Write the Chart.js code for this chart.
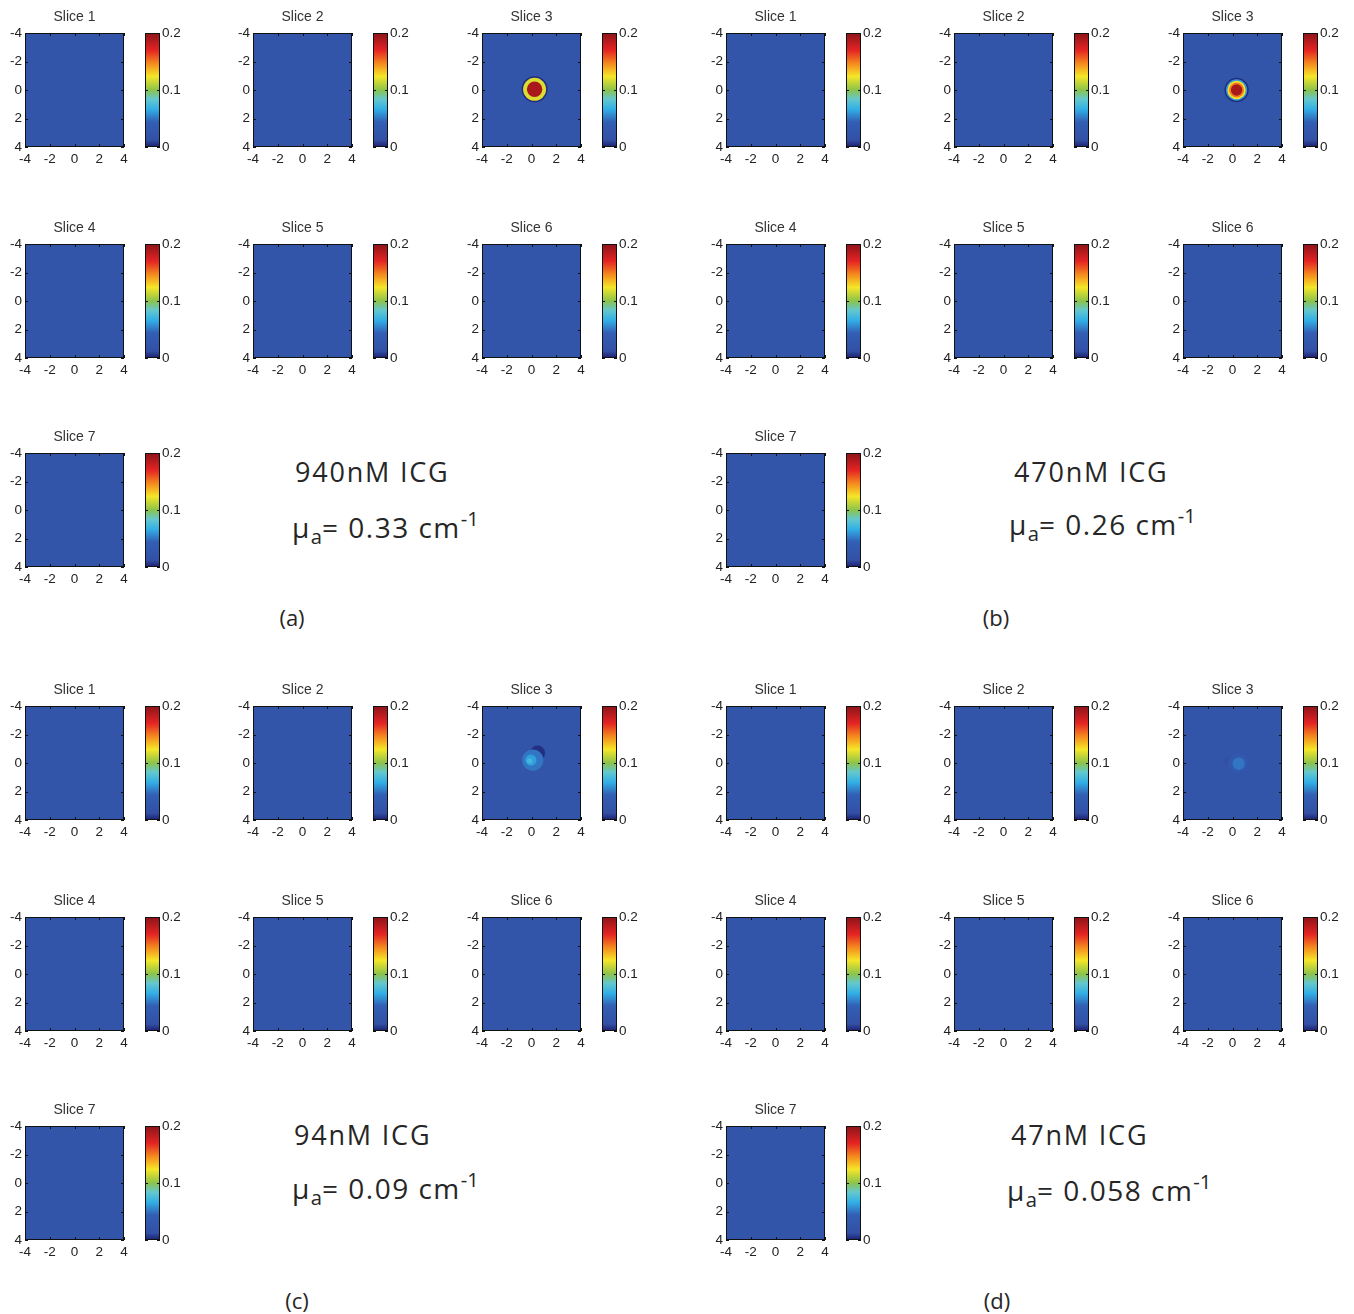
<!DOCTYPE html>
<html>
<head>
<meta charset="utf-8">
<script src="https://cdn.jsdelivr.net/npm/chart.js@4.4.1/dist/chart.umd.min.js"></script>
<style>
body { margin: 0; background: #fff; width: 1354px; height: 1314px; position: relative; overflow: hidden; }
canvas { position: absolute; }
.note { position: absolute; font-family: 'Open Sans', sans-serif; color: #262626; white-space: nowrap; }
.note sub, .note sup { font-size: 0.72em; line-height: 0; letter-spacing: 0; }
.note sub { vertical-align: -0.28em; }
.note sup { vertical-align: 0.62em; }
</style>
</head>
<body>
<script>
// values
const panelTags = ['(a)', '(b)', '(c)', '(d)'];
const concentrations = ['940nM ICG', '470nM ICG', '94nM ICG', '47nM ICG'];
const absorption = ['0.33', '0.26', '0.09', '0.058'];
const sliceTitles = ['Slice 1', 'Slice 2', 'Slice 3', 'Slice 4', 'Slice 5', 'Slice 6', 'Slice 7'];
const axisTicks = [-4, -2, 0, 2, 4];
const colorbarTicks = [0, 0.1, 0.2];
const backgroundValue = 0.02;
const inclusionSlice = 3;

// reconstructed target in slice 3, back to front: centre x, y (cm), radius (cm), value
const inclusionA = [
    { x: 0.25, y: -0.05, rad: 1.05, v: 0.003 },
    { x: 0.25, y: -0.05, rad: 0.93, v: 0.118 },
    { x: 0.25, y: -0.05, rad: 0.62, v: 0.19 }
];
const inclusionB = [
    { x: 0.33, y: 0.0, rad: 0.98, v: 0.003 },
    { x: 0.33, y: 0.0, rad: 0.86, v: 0.06 },
    { x: 0.33, y: 0.0, rad: 0.74, v: 0.125 },
    { x: 0.33, y: 0.0, rad: 0.6, v: 0.15 },
    { x: 0.33, y: 0.0, rad: 0.46, v: 0.19 }
];
const inclusionC = [
    { x: 0.5, y: -0.7, rad: 0.6, v: 0.004 },
    { x: 0.1, y: -0.2, rad: 0.86, v: 0.05 },
    { x: -0.05, y: -0.2, rad: 0.45, v: 0.062 },
    { x: -0.15, y: -0.15, rad: 0.22, v: 0.072 }
];
const inclusionD = [
    { x: -0.4, y: -0.1, rad: 0.35, v: 0.014 },
    { x: 0.45, y: 0.0, rad: 0.8, v: 0.032 },
    { x: 0.5, y: 0.05, rad: 0.5, v: 0.05 }
];
const inclusions = [inclusionA, inclusionB, inclusionC, inclusionD];

// jet-like colour map as printed
const jetStops = [0, 0.06, 0.22, 0.33, 0.42, 0.5, 0.62, 0.73, 0.85, 1];
const jetColors = [[28, 30, 110], [50, 80, 165], [50, 95, 180], [50, 175, 230], [100, 200, 205],
    [140, 195, 75], [245, 230, 40], [245, 140, 30], [228, 35, 35], [140, 20, 25]];

function jet(v) {
    const t = Math.min(1, Math.max(0, v / colorbarTicks[2]));
    let i = 0;
    while (i < jetStops.length - 2 && t > jetStops[i + 1]) i++;
    const f = (t - jetStops[i]) / (jetStops[i + 1] - jetStops[i]);
    const c = jetColors[i].map((a, k) => Math.round(a + (jetColors[i + 1][k] - a) * f));
    return `rgb(${c[0]},${c[1]},${c[2]})`;
}

// layout
const panelX = [0, 701, 0, 701];
const panelY = [0, 0, 673, 673];
const colX = [25, 253, 482];
const rowY = [33, 244, 453];
const plotW = 99, plotH = 114;
const cbGap = 120, cbW = 15;
const tickFont = { family: "'Liberation Sans', Arial, sans-serif", size: 13.5 };

const frame = {
    id: 'frame',
    beforeDatasetsDraw(chart, args, opts) {
        if (!opts.fill) return;
        const a = chart.chartArea, ctx = chart.ctx;
        ctx.save();
        ctx.fillStyle = jet(backgroundValue);
        ctx.fillRect(a.left, a.top, a.width, a.height);
        ctx.restore();
    },
    afterDatasetsDraw(chart, args, opts) {
        const a = chart.chartArea, ctx = chart.ctx;
        ctx.save();
        ctx.strokeStyle = '#111';
        ctx.lineWidth = 1;
        ctx.beginPath();
        if (opts.xTicks) {
            opts.xTicks.forEach(v => {
                const px = Math.round(chart.scales.x.getPixelForValue(v)) + 0.5;
                ctx.moveTo(px, a.top); ctx.lineTo(px, a.top + 3);
                ctx.moveTo(px, a.bottom); ctx.lineTo(px, a.bottom - 3);
            });
        }
        opts.yTicks.forEach(v => {
            const py = Math.round(chart.scales.y.getPixelForValue(v)) + 0.5;
            ctx.moveTo(a.left, py); ctx.lineTo(a.left + 3, py);
            ctx.moveTo(a.right, py); ctx.lineTo(a.right - 3, py);
        });
        ctx.stroke();
        ctx.strokeRect(Math.round(a.left) + 0.5, Math.round(a.top) + 0.5, Math.round(a.width) - 1, Math.round(a.height) - 1);
        ctx.restore();
    }
};

function heatmap(left, top, title, blobs) {
    const cv = document.createElement('canvas');
    cv.width = plotW + 48;
    cv.height = 30 + plotH + 22;
    cv.style.left = (left - 24) + 'px';
    cv.style.top = (top - 30) + 'px';
    document.body.appendChild(cv);
    new Chart(cv, {
        type: 'scatter',
        data: {
            datasets: [{
                data: blobs,
                pointBackgroundColor: c => jet(c.raw ? c.raw.v : 0),
                pointBorderWidth: 0,
                pointRadius: c => {
                    const s = c.chart.scales.x, d = c.raw;
                    if (!d || !c.chart.chartArea) return 0;
                    return Math.abs(s.getPixelForValue(d.x + d.rad) - s.getPixelForValue(d.x));
                },
                clip: 0
            }]
        },
        options: {
            responsive: false,
            animation: false,
            events: [],
            layout: { padding: 0, autoPadding: false },
            plugins: {
                legend: { display: false },
                tooltip: { enabled: false },
                title: {
                    display: true, text: title, color: '#333',
                    font: { family: "'Liberation Sans', Arial, sans-serif", size: 14, weight: 'normal', lineHeight: '16px' },
                    padding: { top: 6, bottom: 8 }
                },
                frame: { fill: true, xTicks: axisTicks, yTicks: axisTicks }
            },
            scales: {
                x: {
                    type: 'linear', min: axisTicks[0], max: axisTicks[4],
                    afterBuildTicks: s => { s.ticks = axisTicks.map(v => ({ value: v })); },
                    grid: { display: false, drawTicks: false }, border: { display: false },
                    ticks: { padding: 4, color: '#222', font: tickFont, maxRotation: 0, autoSkip: false },
                    afterFit: s => { s.height = 22; }
                },
                y: {
                    type: 'linear', reverse: true, min: axisTicks[0], max: axisTicks[4],
                    afterBuildTicks: s => { s.ticks = axisTicks.map(v => ({ value: v })); },
                    grid: { display: false, drawTicks: false }, border: { display: false },
                    ticks: { padding: 3, color: '#222', font: tickFont, autoSkip: false },
                    afterFit: s => { s.width = 24; }
                },
                y2: {
                    position: 'right', display: true,
                    grid: { display: false, drawTicks: false }, border: { display: false },
                    ticks: { display: false },
                    afterFit: s => { s.width = 24; }
                }
            }
        },
        plugins: [frame]
    });
}

function colorbar(left, top) {
    const cv = document.createElement('canvas');
    cv.width = 1 + cbW + 30;
    cv.height = plotH + 20;
    cv.style.left = (left - 1) + 'px';
    cv.style.top = (top - 10) + 'px';
    document.body.appendChild(cv);
    new Chart(cv, {
        type: 'bar',
        data: {
            labels: [''],
            datasets: [{
                data: [[colorbarTicks[0], colorbarTicks[2]]],
                borderWidth: 0,
                barPercentage: 1,
                categoryPercentage: 1,
                backgroundColor: c => {
                    const ch = c.chart;
                    if (!ch.chartArea) return jet(0.1);
                    const s = ch.scales.y;
                    const g = ch.ctx.createLinearGradient(0, s.getPixelForValue(colorbarTicks[0]), 0, s.getPixelForValue(colorbarTicks[2]));
                    jetStops.forEach((t, i) => g.addColorStop(t, `rgb(${jetColors[i].join(',')})`));
                    return g;
                }
            }]
        },
        options: {
            responsive: false,
            animation: false,
            events: [],
            layout: { padding: { left: 1, right: 0, top: 10, bottom: 10 } },
            plugins: {
                legend: { display: false },
                tooltip: { enabled: false },
                frame: { fill: false, yTicks: colorbarTicks }
            },
            scales: {
                x: { display: false },
                y: {
                    position: 'right', min: colorbarTicks[0], max: colorbarTicks[2],
                    afterBuildTicks: s => { s.ticks = colorbarTicks.map(v => ({ value: v })); },
                    grid: { display: false, drawTicks: false }, border: { display: false },
                    ticks: { padding: 2, color: '#222', font: tickFont, callback: v => String(+(+v).toFixed(2)) },
                    afterFit: s => { s.width = 30; }
                }
            }
        },
        plugins: [frame]
    });
}

// annotation positions: [left, centre y] per panel
const line1Pos = [[295, 472], [1014, 472], [294, 1135], [1011, 1135]];
const line2Pos = [[292, 527], [1009, 524], [292, 1188], [1007, 1190]];
const tagPos = [[292, 617], [996, 617], [297, 1300], [997, 1300]];

function note(html, x, y, size, spacing, centred) {
    const d = document.createElement('div');
    d.className = 'note';
    d.innerHTML = html;
    d.style.fontSize = size + 'px';
    d.style.letterSpacing = spacing + 'px';
    d.style.lineHeight = '40px';
    d.style.top = (y - 20) + 'px';
    if (centred) {
        d.style.left = (x - 50) + 'px';
        d.style.width = '100px';
        d.style.textAlign = 'center';
    } else {
        d.style.left = x + 'px';
    }
    document.body.appendChild(d);
}

panelTags.forEach((tag, p) => {
    sliceTitles.forEach((title, i) => {
        const left = panelX[p] + colX[i % 3];
        const top = panelY[p] + rowY[Math.floor(i / 3)];
        heatmap(left, top, title, i + 1 === inclusionSlice ? inclusions[p] : []);
        colorbar(left + cbGap, top);
    });
    note(concentrations[p], line1Pos[p][0], line1Pos[p][1], 27, 1.8);
    note('\u03bc<sub>a</sub>= ' + absorption[p] + ' cm<sup>-1</sup>', line2Pos[p][0], line2Pos[p][1], 28, 1.5);
    note(tag, tagPos[p][0], tagPos[p][1], 22, 0, true);
});
</script>
</body>
</html>
